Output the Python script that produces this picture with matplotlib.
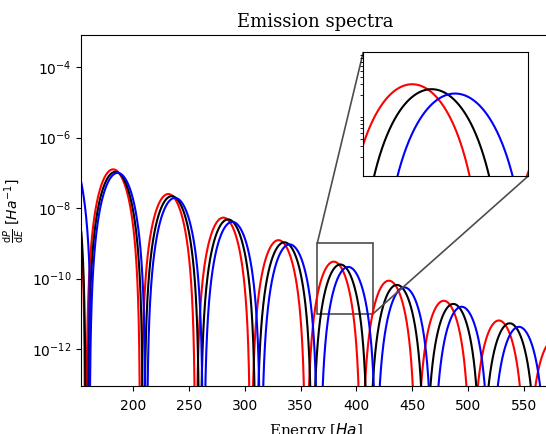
import numpy as np
import matplotlib
matplotlib.use("Agg")
import matplotlib.pyplot as plt
from mpl_toolkits.axes_grid1.inset_locator import mark_inset

# lobe peak energies [Ha] and peak heights (log10)
red_peaks = [132.6, 182.0, 231.4, 280.8, 330.2, 379.8, 429.2, 478.4, 527.8, 577.2]
red_logs = [-6.17, -6.90, -7.60, -8.27, -8.91, -9.52, -10.06, -10.63, -11.19, -11.75]
black_peaks = [132.7, 184.0, 234.5, 285.0, 335.5, 385.7, 436.4, 487.0, 537.5, 588.0]
black_logs = [-6.25, -6.97, -7.66, -8.32, -8.97, -9.60, -10.18, -10.72, -11.27, -11.82]
blue_peaks = [137.8, 186.0, 237.4, 288.8, 340.2, 392.8, 443.0, 494.4, 545.8, 597.2]
blue_logs = [-6.27, -7.00, -7.71, -8.39, -9.03, -9.67, -10.25, -10.80, -11.37, -11.92]
# half width of each lobe (between its two zeros)
half_widths = {"r": 24.2, "k": 24.7, "b": 25.2}
lobe_power = 4.0

E = np.linspace(100, 640, 60000)


def spectrum(peaks, logs, hw):
    y = np.full_like(E, 1e-30)
    for c, lg in zip(peaks, logs):
        m = np.abs(E - c) < hw
        y[m] = 10**lg * np.cos(np.pi * (E[m] - c) / (2 * hw))**lobe_power
    y[y <= 0] = 1e-30
    return y


curves = [(red_peaks, red_logs, "r"), (black_peaks, black_logs, "k"),
          (blue_peaks, blue_logs, "b")]

fig = plt.figure(figsize=(5.46, 4.34), dpi=100)
ax = fig.add_axes([0.149, 0.1106, 0.858, 0.8084])
axins = fig.add_axes([0.6654, 0.5945, 0.3022, 0.2857])

for peaks, logs, col in curves:
    y = spectrum(peaks, logs, half_widths[col])
    ax.plot(E, y, color=col, lw=1.5)
    axins.plot(E, y, color=col, lw=1.5)

ax.set_yscale("log")
ax.set_xlim(153.5, 573.5)
ax.set_ylim(10**-13.05, 10**-3.09)
ax.tick_params(axis="x", pad=6)
ax.set_title("Emission spectra", family="serif", fontsize=13)
ax.set_xlabel("Energy [$Ha$]", family="serif", fontsize=11, labelpad=5.5)
ax.set_ylabel(r"$\frac{\mathrm{d}P}{\mathrm{d}E}$ [$Ha^{-1}$]")

axins.set_yscale("log")
axins.set_xlim(365, 415)
axins.set_ylim(1e-11, 1e-9)
axins.set_xticks([])
axins.set_yticks([])
mark_inset(ax, axins, loc1=2, loc2=4, fc="none", ec="0.3", lw=1.2)

fig.savefig("out.png", dpi=100)
